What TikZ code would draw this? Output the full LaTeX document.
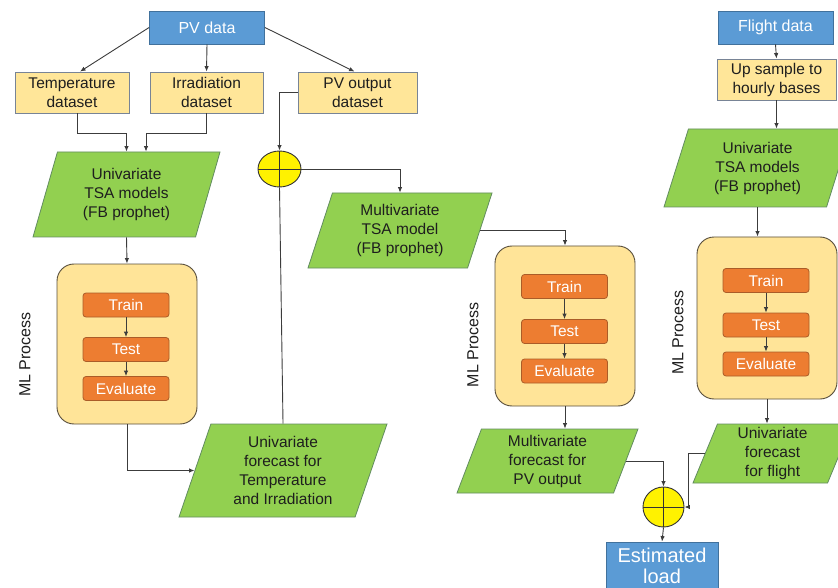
\documentclass[tikz,border=0pt]{standalone}
\usepackage{fontspec}
\setmainfont{Liberation Sans}
\usetikzlibrary{shapes.geometric,arrows.meta}

\definecolor{srcblue}{RGB}{91,155,213}
\definecolor{srcborder}{RGB}{65,113,156}
\definecolor{dsetfill}{RGB}{255,230,153}
\definecolor{dsetborder}{RGB}{120,132,150}
\definecolor{grnfill}{RGB}{146,208,80}
\definecolor{grnborder}{RGB}{98,140,96}
\definecolor{mlfill}{RGB}{255,228,152}
\definecolor{mlborder}{RGB}{88,78,60}
\definecolor{taskfill}{RGB}{237,125,49}
\definecolor{taskborder}{RGB}{170,92,40}
\definecolor{linegray}{RGB}{60,60,60}
\definecolor{txtgray}{RGB}{30,30,30}

\begin{document}
\begin{tikzpicture}[x=1pt, y=-1pt,
    every node/.style={font=\fontsize{15.5}{19}\selectfont, align=center,
        text=txtgray, inner sep=0pt},
    arr/.style={draw=linegray, line width=0.9pt,
        -{Latex[length=5.5pt,width=4.5pt]}},
    link/.style={draw=linegray, line width=0.9pt},
    src/.style={rectangle, draw=srcborder, fill=srcblue, text=white,
        line width=0.8pt, minimum width=115, minimum height=33,
        font=\fontsize{16}{19}\selectfont},
    dset/.style={rectangle, draw=dsetborder, fill=dsetfill, line width=0.8pt,
        minimum height=41},
    para/.style={trapezium, trapezium left angle=65, trapezium right angle=115,
        trapezium stretches body, draw=grnborder, fill=grnfill,
        line width=0.8pt},
    mlbox/.style={rectangle, rounded corners=17, draw=mlborder, fill=mlfill,
        line width=0.9pt, minimum width=140, minimum height=160},
    task/.style={rectangle, rounded corners=3, draw=taskborder,
        fill=taskfill, text=white, line width=0.8pt, minimum width=86,
        minimum height=24},
    mllabel/.style={rotate=90, font=\fontsize{16}{19}\selectfont},
    sum/.style={ellipse, draw=black!80, fill=yellow, line width=0.9pt,
        path picture={\draw[black!80, line width=0.9pt]
            (path picture bounding box.north) --
            (path picture bounding box.south)
            (path picture bounding box.west) --
            (path picture bounding box.east);}}]
    \useasboundingbox (0, 0) rectangle (838, 588);
    \clip (0, 0) rectangle (838, 588);

    \node[src] (pv) at (207, 27.5) {PV data};
    \node[dset, minimum width=114] (temp) at (72, 92.5)
        {Temperature\\dataset};
    \node[dset, minimum width=113] (irr) at (206.5, 92.5)
        {Irradiation\\dataset};
    \node[dset, minimum width=119] (pvout) at (357.5, 92.5)
        {PV output\\dataset};
    \node[sum, minimum width=43, minimum height=36] (sum1) at (279.5, 169) {};
    \node[para, minimum width=187, minimum height=85] (uni1)
        at (126.5, 194.5) {Univariate\\TSA models\\(FB prophet)};
    \node[mlbox] (ml1) at (127, 344) {};
    \node[task] (train1) at (126, 305) {Train};
    \node[task] (test1) at (126, 349.5) {Test};
    \node[task] (eval1) at (126, 388.5) {Evaluate};
    \node[mllabel] (lab1) at (25, 354.5) {ML Process};
    \node[para, minimum width=208, minimum height=93] (fc1) at (283, 470.5)
        {Univariate\\forecast for\\Temperature\\and Irradiation};

    \node[para, minimum width=184, minimum height=75] (multi)
        at (400, 230.5) {Multivariate\\TSA model\\(FB prophet)};
    \node[mlbox] (ml2) at (565, 326) {};
    \node[task] (train2) at (564.5, 286.5) {Train};
    \node[task] (test2) at (564.5, 331.5) {Test};
    \node[task] (eval2) at (564.5, 371) {Evaluate};
    \node[mllabel] (lab2) at (473, 345) {ML Process};
    \node[para, minimum width=181, minimum height=64] (fc2) at (547.5, 461)
        {Multivariate\\forecast for\\PV output};
    \node[sum, minimum width=41, minimum height=40] (sum2) at (663.5, 507) {};
    \node[src, minimum width=112, minimum height=48,
        font=\fontsize{20}{21}\selectfont] (est) at (662, 566)
        {Estimated\\load};

    \node[src] (flight) at (775.5, 27.5) {Flight data};
    \node[dset, minimum width=119] (up) at (776.5, 79.5)
        {Up sample to\\hourly bases};
    \node[para, minimum width=187, minimum height=78] (uni3)
        at (757.5, 168) {Univariate\\TSA models\\(FB prophet)};
    \node[mlbox, minimum height=162] (ml3) at (767, 318) {};
    \node[task] (train3) at (766, 280.5) {Train};
    \node[task] (test3) at (766, 325) {Test};
    \node[task] (eval3) at (766, 364) {Evaluate};
    \node[mllabel] (lab3) at (678, 332.5) {ML Process};
    \node[para, minimum width=159, minimum height=59] (fc3) at (772.5, 453.5)
        {Univariate\\forecast\\for flight};

    \draw[arr] (pv.west) -- ([xshift=8]temp.north);
    \draw[arr] (pv.south) -- (irr.north);
    \draw[arr] (pv.east) -- ([xshift=-3]pvout.north);
    \draw[arr] ([xshift=5]temp.south) -- ++(0, 20) -| (uni1.north);
    \draw[arr] (irr.south) -- ++(0, 20) -| ([xshift=19.5]uni1.north);
    \draw[arr] (pvout.west) -| (sum1.north);
    \draw[arr] (sum1.east) -| (multi.north);
    \draw[link] (fc1.north) -- (sum1.south);
    \draw[arr] (uni1.south) -- (ml1.north);
    \draw[arr] (ml1.south) |- (fc1.left side);
    \foreach \i in {1, 2, 3} {
        \draw[arr] (train\i) -- (test\i);
        \draw[arr] (test\i) -- (eval\i);
    }

    \draw[arr] (multi.right side) -| (ml2.north);
    \draw[arr] (ml2.south) -- (ml2.south |- fc2.north);
    \draw[arr] (fc2.right side) -| (sum2.north);
    \draw[arr] (fc3.left side) -- ++(-16, 0) |- (sum2.east);
    \draw[arr] (sum2.south) -- (est.north);

    \draw[arr] (flight.south) -- (up.north);
    \draw[arr] (up.south) -- (up.south |- uni3.north);
    \draw[arr] (uni3.south) -- (uni3.south |- ml3.north);
    \draw[arr] (ml3.south) -- (ml3.south |- fc3.north);
\end{tikzpicture}
\end{document}
